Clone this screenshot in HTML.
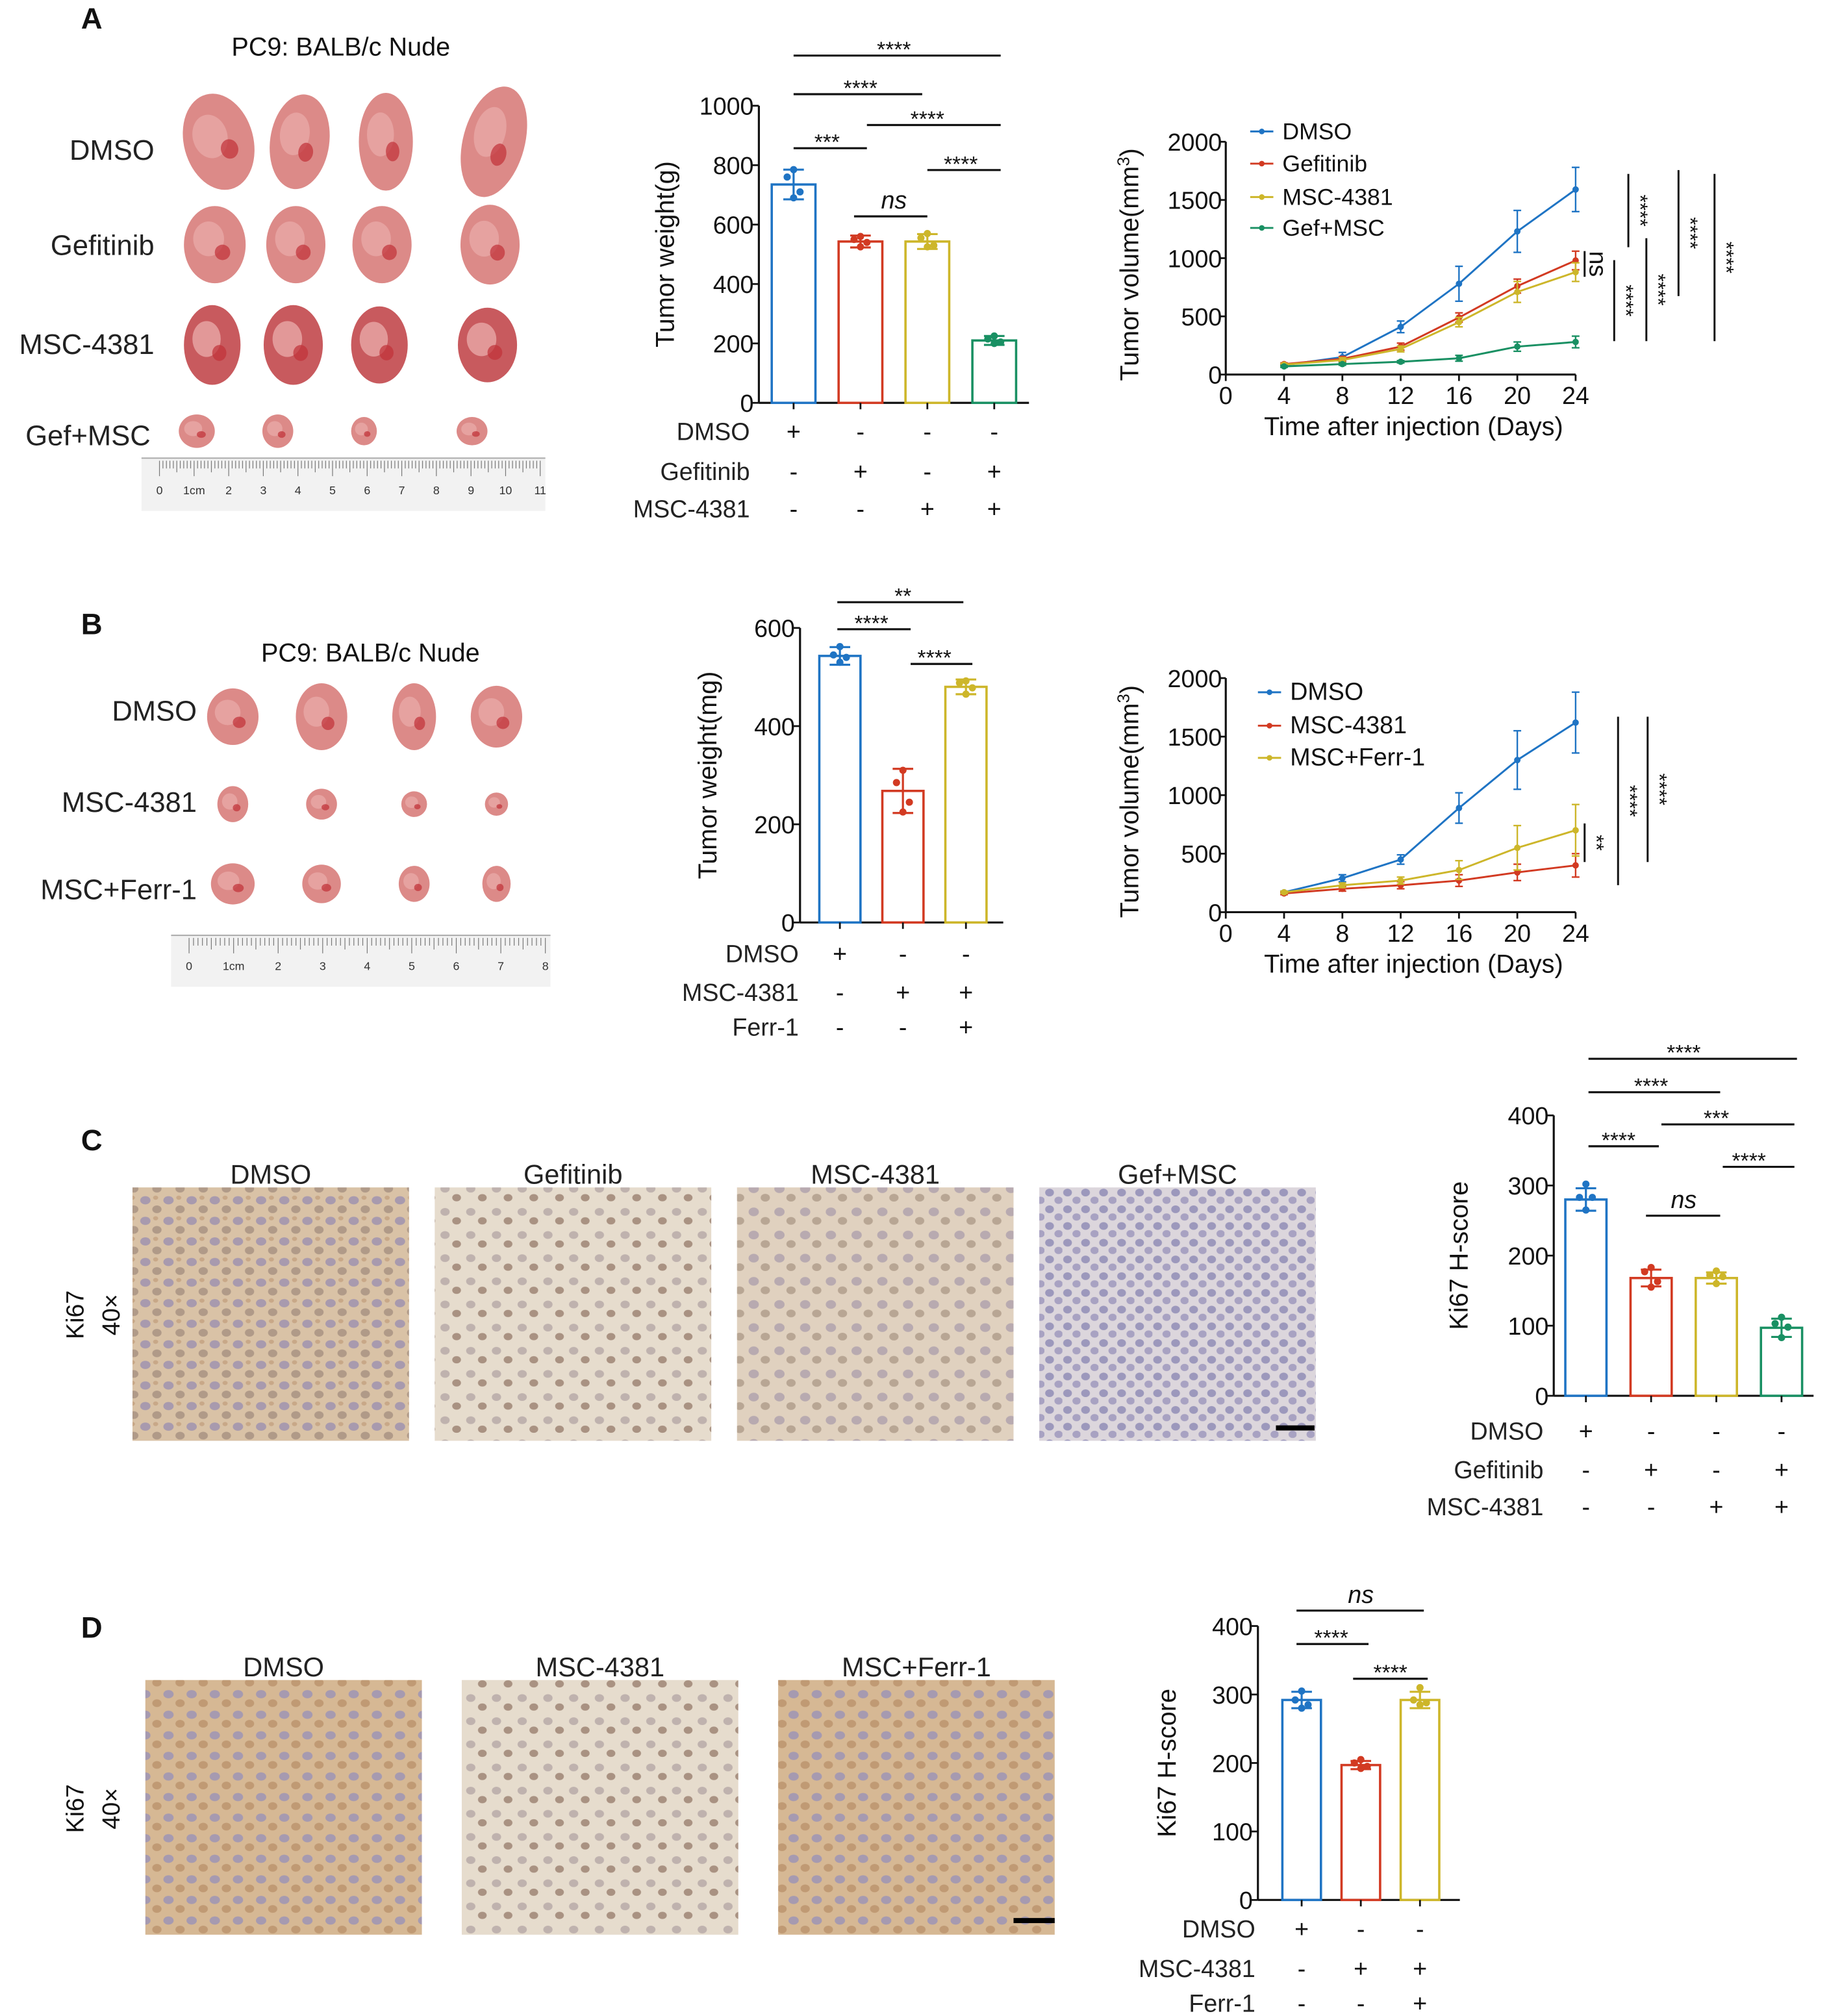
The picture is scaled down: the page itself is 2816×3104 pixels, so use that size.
<!DOCTYPE html>
<html><head><meta charset="utf-8">
<style>
html,body{margin:0;padding:0;background:#fff;}
svg{display:block;}
text{font-family:"Liberation Sans",Arial,sans-serif;}
</style></head>
<body>
<svg id="fig" xmlns="http://www.w3.org/2000/svg" width="2816" height="3104" viewBox="0 0 1422 1567">
<defs>
<pattern id="ihcBrown" width="18" height="16" patternUnits="userSpaceOnUse">
<rect width="18" height="16" fill="#d9c2a6"/>
<ellipse cx="5" cy="5" rx="4" ry="3.2" fill="#a89aae"/><ellipse cx="14" cy="12" rx="3.6" ry="3" fill="#b09a88"/><ellipse cx="13" cy="3" rx="2" ry="1.6" fill="#c8a888"/>
</pattern>
<pattern id="ihcLight" width="20" height="18" patternUnits="userSpaceOnUse">
<rect width="20" height="18" fill="#e6dccd"/>
<ellipse cx="6" cy="6" rx="3.6" ry="3" fill="#bfb2ae"/><ellipse cx="15" cy="13" rx="3.4" ry="2.8" fill="#a99282"/>
</pattern>
<pattern id="ihcMed" width="20" height="18" patternUnits="userSpaceOnUse">
<rect width="20" height="18" fill="#e0d1bf"/>
<ellipse cx="6" cy="6" rx="4" ry="3.4" fill="#b8aab0"/><ellipse cx="15" cy="13" rx="3.6" ry="3" fill="#b8a694"/>
</pattern>
<pattern id="ihcBlue" width="14" height="13" patternUnits="userSpaceOnUse">
<rect width="14" height="13" fill="#dcd6dc"/>
<ellipse cx="4" cy="4" rx="3.4" ry="3" fill="#9c98bc"/><ellipse cx="11" cy="10" rx="3.2" ry="2.8" fill="#a8a2c2"/>
</pattern>
<pattern id="ihcTan" width="18" height="16" patternUnits="userSpaceOnUse">
<rect width="18" height="16" fill="#d6b894"/>
<ellipse cx="5" cy="5" rx="4" ry="3.2" fill="#a69ab0"/><ellipse cx="14" cy="12" rx="3.6" ry="3" fill="#c09a74"/>
</pattern>
</defs>
<g id="root"></g>
</svg>
<script>
const NS='http://www.w3.org/2000/svg';
const root=document.getElementById('root');
const COLORS=['#1f74c4','#d23a22','#cdb62a','#199063'];

// ===== Panel A bar data =====
const aBarCats=['DMSO','Gefitinib','MSC-4381','Gef+MSC'];
const aBarValues=[735,543,543,210];
const aBarSD=[50,20,25,15];
const aBarPoints=[[785,760,710,690],[560,550,540,525],[570,555,530,525],[225,215,205,200]];
const aBarTicks=[0,200,400,600,800,1000];
// ===== Panel A line data =====
const aDays=[4,8,12,16,20,24];
const aLineDMSO=[80,150,410,780,1230,1590];
const aLineDMSOerr=[10,40,50,150,180,190];
const aLineGef=[90,135,240,490,760,980];
const aLineGefErr=[10,20,30,40,60,80];
const aLineMSC=[85,125,220,450,710,880];
const aLineMSCErr=[10,20,25,40,90,80];
const aLineCombo=[70,90,110,140,240,280];
const aLineComboErr=[8,10,10,25,40,50];
const lineTicksY=[0,500,1000,1500,2000];
const lineTicksX=[0,4,8,12,16,20,24];
// ===== Panel B bar data =====
const bBarCats=['DMSO','MSC-4381','MSC+Ferr-1'];
const bBarValues=[543,268,480];
const bBarSD=[18,45,15];
const bBarPoints=[[562,545,540,530],[310,285,245,225],[492,488,478,465]];
const bBarTicks=[0,200,400,600];
// ===== Panel B line data =====
const bLineDMSO=[170,290,450,890,1300,1620];
const bLineDMSOerr=[10,30,40,130,250,260];
const bLineMSC=[160,200,230,270,340,400];
const bLineMSCerr=[10,20,30,50,70,100];
const bLineFerr=[170,230,270,360,550,700];
const bLineFerrErr=[10,20,30,80,190,220];
// ===== Panel C bar data =====
const cBarValues=[280,168,168,97];
const cBarSD=[16,12,8,13];
const cBarPoints=[[302,283,283,265],[183,177,163,155],[178,172,170,160],[112,103,98,83]];
const hTicks=[0,100,200,300,400];
// ===== Panel D bar data =====
const dBarValues=[292,197,292];
const dBarSD=[12,6,12];
const dBarPoints=[[305,292,285,280],[205,200,195,192],[310,292,288,285]];

function mk(tag,attrs,name,parent){
  const el=document.createElementNS(NS,tag);
  for(const k in attrs) el.setAttribute(k,attrs[k]);
  
  
  (parent||root).appendChild(el);
  return el;
}
function txt(x,y,s,size,name,opts){
  opts=opts||{};
  const a={x:x,y:y,'font-size':size,fill:opts.fill||'#111','text-anchor':opts.anchor||'start'};
  if(opts.weight)a['font-weight']=opts.weight;
  if(opts.style)a['font-style']=opts.style;
  if(opts.rot!==undefined)a.transform='rotate('+opts.rot+' '+x+' '+y+')';
  const t=mk('text',a,name,opts.parent);
  t.textContent=s;
  return t;
}
function line(x1,y1,x2,y2,name,stroke,w,parent){
  return mk('line',{x1:x1,y1:y1,x2:x2,y2:y2,stroke:stroke||'#111','stroke-width':w||1.6},name,parent);
}

// ---------- Bar chart ----------
function barChart(c){
  const g=mk('g',{},c.name);
  const ys=v=>c.yBot-(v/c.max)*(c.yBot-c.yTop);
  const xs=i=>c.xFirst+i*c.spacing;
  line(c.x0,c.yTop,c.x0,c.yBot,'y-axis','#111',1.6,g);
  line(c.x0,c.yBot,c.xEnd,c.yBot,'x-axis','#111',1.6,g);
  c.ticks.forEach(t=>{
    line(c.x0-5,ys(t),c.x0,ys(t),'y-tick','#111',1.4,g);
    txt(c.x0-4,ys(t)+7,String(t),19,'y-tick-label',{anchor:'end',parent:g});
  });
  c.values.forEach((v,i)=>{
    const col=COLORS[c.colorIdx[i]];
    mk('rect',{x:xs(i)-c.bw/2,y:ys(v),width:c.bw,height:c.yBot-ys(v),fill:'none',stroke:col,'stroke-width':1.8},'bar-'+i,g);
    line(xs(i),c.yBot,xs(i),c.yBot+5,'x-tick','#111',1.4,g);
    const sd=c.sd[i];
    line(xs(i),ys(v+sd),xs(i),ys(v-sd),'error-bar',col,1.6,g);
    line(xs(i)-8,ys(v+sd),xs(i)+8,ys(v+sd),'error-cap',col,1.6,g);
    line(xs(i)-8,ys(v-sd),xs(i)+8,ys(v-sd),'error-cap',col,1.6,g);
    const off=[0,-5,5,0];
    c.points[i].forEach((p,j)=>{
      mk('circle',{cx:xs(i)+off[j%4],cy:ys(p),r:2.8,fill:col},'data-point',g);
    });
  });
  txt(c.titleX,(c.yTop+c.yBot)/2,c.title,20,'y-axis-title',{anchor:'middle',rot:-90,parent:g});
  c.sig.forEach(s=>{
    line(xs(s[0])+(s[3]||0),s[2],xs(s[1])+(s[4]||0),s[2],'significance-line','#111',1.6,g);
    const mid=(xs(s[0])+xs(s[1]))/2;
    if(s[5]==='ns') txt(mid,s[2]-6,'ns',19,'significance-label',{anchor:'middle',style:'italic',parent:g});
    else txt(mid,s[2]+1,s[5],17,'significance-label',{anchor:'middle',parent:g});
  });
  c.table.forEach((row,r)=>{
    txt(c.labelX,c.tableY[r]+7,row[0],19,'condition-label',{anchor:'end',fill:'#222',parent:g});
    row[1].forEach((s,i)=>{
      txt(xs(i),c.tableY[r]+7,s,19,'condition-sign',{anchor:'middle',parent:g});
    });
  });
  return g;
}

// ---------- Line chart ----------
function lineChart(c){
  const g=mk('g',{},c.name);
  const ys=v=>c.yBot-(v/2000)*(c.yBot-c.yTop);
  const xs=d=>c.x0+d/24*(c.xEnd-c.x0);
  line(c.x0,c.yTop,c.x0,c.yBot,'y-axis','#111',1.6,g);
  line(c.x0,c.yBot,c.xEnd,c.yBot,'x-axis','#111',1.6,g);
  lineTicksY.forEach(t=>{
    line(c.x0-5,ys(t),c.x0,ys(t),'y-tick','#111',1.4,g);
    txt(c.x0-3,ys(t)+7,String(t),19,'y-tick-label',{anchor:'end',parent:g});
  });
  lineTicksX.forEach(t=>{
    line(xs(t),c.yBot,xs(t),c.yBot+5,'x-tick','#111',1.4,g);
    txt(xs(t),c.yBot+23,String(t),19,'x-tick-label',{anchor:'middle',parent:g});
  });
  txt((c.x0+c.xEnd)/2+10,c.yBot+47,'Time after injection (Days)',20,'x-axis-title',{anchor:'middle',parent:g});
  const yt=txt(c.x0-68,(c.yTop+c.yBot)/2+5,'',20,'y-axis-title',{anchor:'middle',rot:-90,parent:g});
  yt.innerHTML='Tumor volume(mm<tspan dy="-7" font-size="13">3</tspan><tspan dy="7">)</tspan>';
  c.series.forEach((s,k)=>{
    const col=COLORS[s.color];
    const pts=aDays.map((d,i)=>xs(d)+','+ys(s.values[i])).join(' ');
    mk('polyline',{points:pts,fill:'none',stroke:col,'stroke-width':1.5},'series-line-'+s.label,g);
    aDays.forEach((d,i)=>{
      const v=s.values[i],e=s.err[i];
      line(xs(d),ys(v+e),xs(d),ys(v-e),'error-bar',col,1.2,g);
      line(xs(d)-3,ys(v+e),xs(d)+3,ys(v+e),'error-cap',col,1.2,g);
      line(xs(d)-3,ys(v-e),xs(d)+3,ys(v-e),'error-cap',col,1.2,g);
      mk('circle',{cx:xs(d),cy:ys(v),r:2.5,fill:col},'data-point',g);
    });
    const ly=c.legY[k];
    line(c.legX,ly,c.legX+18,ly,'legend-line',col,1.5,g);
    mk('circle',{cx:c.legX+9,cy:ly,r:2.2,fill:col},'legend-marker',g);
    txt(c.legX+25,ly+6,s.label,c.legSize,'legend-entry',{parent:g});
  });
  c.sig.forEach(s=>{
    line(s[0],s[1],s[0],s[2],'significance-line','#111',1.5,g);
    if(s[3]==='ns') txt(s[0]+4,(s[1]+s[2])/2,'ns',19,'significance-label',{anchor:'middle',rot:90,parent:g});
    else txt(s[0]+4,(s[1]+s[2])/2,s[3],16,'significance-label',{anchor:'middle',rot:90,parent:g});
  });
  return g;
}

// ---------- Photo helpers ----------
function tumor(cx,cy,rx,ry,rot,name,dark){
  const g=mk('g',{transform:'rotate('+rot+' '+cx+' '+cy+')'},name);
  mk('ellipse',{cx:cx,cy:cy,rx:rx,ry:ry,fill:dark?'#c85a5e':'#dc8a88'},'tumor-body',g);
  mk('ellipse',{cx:cx-rx*0.2,cy:cy-ry*0.15,rx:rx*0.5,ry:ry*0.45,fill:'#e8a8a6',opacity:0.8},'tumor-highlight',g);
  mk('ellipse',{cx:cx+rx*0.25,cy:cy+ry*0.2,rx:rx*0.25,ry:ry*0.2,fill:'#c03038',opacity:0.7},'tumor-spot',g);
}
function ruler(x1,x2,y1,y2,n,name){
  const g=mk('g',{},name);
  mk('rect',{x:x1,y:y1,width:x2-x1,height:y2-y1,fill:'#f2f2f2'},'ruler-body',g);
  line(x1,y1,x2,y1,'ruler-edge','#aaa',1,g);
  const x0=x1+14, unit=(x2-x1-18)/n;
  for(let i=0;i<=n*10;i++){
    const x=x0+i*unit/10, h=i%10===0?12:(i%5===0?9:6);
    line(x,y1+2,x,y1+2+h,'ruler-tick','#777',0.6,g);
  }
  for(let i=0;i<=n;i++){
    txt(x0+i*unit,y2-13,i===1?'1cm':String(i),9,'ruler-label',{anchor:'middle',fill:'#333',parent:g});
  }
}
function ihc(x,y,w,h,fill,title,name){
  const g=mk('g',{},name);
  mk('rect',{x:x,y:y,width:w,height:h,fill:'url(#'+fill+')'},'ihc-image',g);
  txt(x+w/2,y-3,title,21,'ihc-title',{anchor:'middle',fill:'#222',parent:g});
}

// ================= PANEL A =================
txt(63,22,'A',23,'panel-label-a',{weight:'bold'});
txt(265,43,'PC9: BALB/c Nude',20,'photo-title-a',{anchor:'middle'});
[['DMSO',120,124],['Gefitinib',120,198],['MSC-4381',120,275],['Gef+MSC',117,346]].forEach(r=>txt(r[1],r[2],r[0],22,'group-label',{anchor:'end',fill:'#222'}));
const aTx=[170,233,300,384];
[[27,38,-15],[23,37,8],[21,38,0],[24,44,15]].forEach((s,i)=>tumor(aTx[i],110,s[0],s[1],s[2],'tumor-dmso',false));
[[24,30,0],[23,30,0],[23,30,0],[23,31,0]].forEach((s,i)=>tumor(aTx[i]-3,190,s[0],s[1],s[2],'tumor-gefitinib',false));
[[22,31,0],[23,31,0],[22,30,0],[23,29,0]].forEach((s,i)=>tumor(aTx[i]-5,268,s[0],s[1],s[2],'tumor-msc',true));
[[14,13,0],[12,13,0],[10,11,0],[12,11,0]].forEach((s,i)=>tumor(aTx[i]-17,335,s[0],s[1],s[2],'tumor-combo',false));
ruler(110,424,356,397,11,'ruler-a');

barChart({name:'bar-chart-tumor-weight-a',x0:590,xEnd:800,yTop:82,yBot:313,max:1000,ticks:aBarTicks,
  xFirst:617,spacing:52,bw:34,values:aBarValues,sd:aBarSD,points:aBarPoints,colorIdx:[0,1,2,3],
  title:'Tumor weight(g)',titleX:524,
  sig:[[0,3,43,0,5,'****'],[0,2,73,0,-4,'****'],[0,1,115,0,5,'***'],[1,3,97,5,5,'****'],[2,3,132,0,5,'****'],[1,2,168,-5,0,'ns']],
  labelX:583,tableY:[335,366,395],
  table:[['DMSO',['+','-','-','-']],['Gefitinib',['-','+','-','+']],['MSC-4381',['-','-','+','+']]]});

lineChart({name:'line-chart-tumor-volume-a',x0:953,xEnd:1225,yTop:110,yBot:291,
  legX:972,legY:[102,127,153,177],legSize:18,
  series:[{label:'DMSO',values:aLineDMSO,err:aLineDMSOerr,color:0},
          {label:'Gefitinib',values:aLineGef,err:aLineGefErr,color:1},
          {label:'MSC-4381',values:aLineMSC,err:aLineMSCErr,color:2},
          {label:'Gef+MSC',values:aLineCombo,err:aLineComboErr,color:3}],
  sig:[[1232,195,215,'ns'],[1266,135,192,'****'],[1305,132,230,'****'],[1333,135,265,'****'],[1255,202,265,'****'],[1280,185,265,'****']]});

// ================= PANEL B =================
txt(63,493,'B',23,'panel-label-b',{weight:'bold'});
txt(288,514,'PC9: BALB/c Nude',20,'photo-title-b',{anchor:'middle'});
[['DMSO',153,560],['MSC-4381',153,631],['MSC+Ferr-1',153,699]].forEach(r=>txt(r[1],r[2],r[0],22,'group-label',{anchor:'end',fill:'#222'}));
const bTx=[181,250,322,386];
[[20,22,0],[20,26,0],[17,26,0],[20,24,0]].forEach((s,i)=>tumor(bTx[i],557,s[0],s[1],s[2],'tumor-dmso-b',false));
[[12,14,0],[12,12,0],[10,10,0],[9,9,0]].forEach((s,i)=>tumor(bTx[i],625,s[0],s[1],s[2],'tumor-msc-b',false));
[[17,16,0],[15,15,0],[12,14,0],[11,14,0]].forEach((s,i)=>tumor(bTx[i],687,s[0],s[1],s[2],'tumor-ferr-b',false));
ruler(133,428,727,767,8,'ruler-b');

barChart({name:'bar-chart-tumor-weight-b',x0:622,xEnd:780,yTop:488,yBot:717,max:600,ticks:bBarTicks,
  xFirst:653,spacing:49,bw:32,values:bBarValues,sd:bBarSD,points:bBarPoints,colorIdx:[0,1,2],
  title:'Tumor weight(mg)',titleX:557,
  sig:[[0,2,468,-2,-2,'**'],[0,1,489,-2,6,'****'],[1,2,516,6,5,'****']],
  labelX:621,tableY:[741,771,798],
  table:[['DMSO',['+','-','-']],['MSC-4381',['-','+','+']],['Ferr-1',['-','-','+']]]});

lineChart({name:'line-chart-tumor-volume-b',x0:953,xEnd:1225,yTop:527,yBot:709,
  legX:978,legY:[538,564,589],legSize:19,
  series:[{label:'DMSO',values:bLineDMSO,err:bLineDMSOerr,color:0},
          {label:'MSC-4381',values:bLineMSC,err:bLineMSCerr,color:1},
          {label:'MSC+Ferr-1',values:bLineFerr,err:bLineFerrErr,color:2}],
  sig:[[1232,640,670,'**'],[1258,557,688,'****'],[1281,557,670,'****']]});

// ================= PANEL C =================
txt(63,894,'C',23,'panel-label-c',{weight:'bold'});
ihc(103,923,215,197,'ihcBrown','DMSO','ihc-dmso-c');
ihc(338,923,215,197,'ihcLight','Gefitinib','ihc-gefitinib-c');
ihc(573,923,215,197,'ihcMed','MSC-4381','ihc-msc-c');
ihc(808,923,215,197,'ihcBlue','Gef+MSC','ihc-combo-c');
line(992,1110,1022,1110,'scale-bar-c','#000',4);
txt(65,1022,'Ki67',19,'stain-label',{anchor:'middle',rot:-90});
txt(93,1022,'40×',19,'magnification-label',{anchor:'middle',rot:-90});

barChart({name:'bar-chart-ki67-c',x0:1208,xEnd:1410,yTop:867,yBot:1085,max:400,ticks:hTicks,
  xFirst:1233,spacing:50.7,bw:32,values:cBarValues,sd:cBarSD,points:cBarPoints,colorIdx:[0,1,2,3],
  title:'Ki67 H-score',titleX:1141,
  sig:[[0,3,823,2,12,'****'],[0,2,849,2,3,'****'],[1,3,874,8,10,'***'],[0,1,891,2,6,'****'],[2,3,907,5,10,'****'],[1,2,945,-4,3,'ns']],
  labelX:1200,tableY:[1112,1142,1171],
  table:[['DMSO',['+','-','-','-']],['Gefitinib',['-','+','-','+']],['MSC-4381',['-','-','+','+']]]});

// ================= PANEL D =================
txt(63,1273,'D',23,'panel-label-d',{weight:'bold'});
ihc(113,1306,215,198,'ihcTan','DMSO','ihc-dmso-d');
ihc(359,1306,215,198,'ihcLight','MSC-4381','ihc-msc-d');
ihc(605,1306,215,198,'ihcTan','MSC+Ferr-1','ihc-ferr-d');
line(788,1493,820,1493,'scale-bar-d','#000',4);
txt(65,1406,'Ki67',19,'stain-label',{anchor:'middle',rot:-90});
txt(93,1406,'40×',19,'magnification-label',{anchor:'middle',rot:-90});

barChart({name:'bar-chart-ki67-d',x0:978,xEnd:1135,yTop:1264,yBot:1477,max:400,ticks:hTicks,
  xFirst:1012,spacing:46,bw:30,values:dBarValues,sd:dBarSD,points:dBarPoints,colorIdx:[0,1,2],
  title:'Ki67 H-score',titleX:914,
  sig:[[0,2,1252,-4,3,'ns'],[0,1,1278,-4,6,'****'],[1,2,1305,-6,6,'****']],
  labelX:976,tableY:[1499,1530,1557],
  table:[['DMSO',['+','-','-']],['MSC-4381',['-','+','+']],['Ferr-1',['-','-','+']]]});
</script>
</body></html>
